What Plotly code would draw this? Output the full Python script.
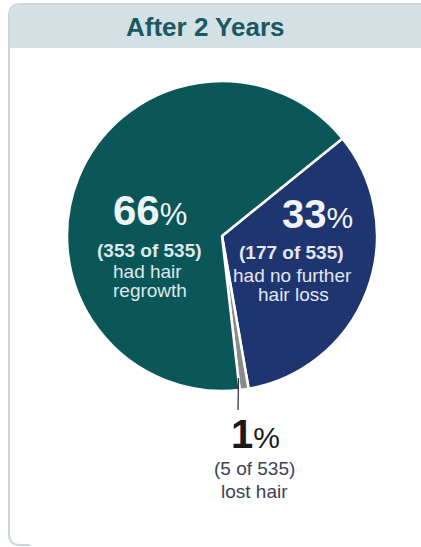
import plotly.graph_objects as go

title = "After 2 Years"
categories = ["had no further hair loss", "lost hair", "had hair regrowth"]
counts = [177, 5, 353]
total = 535
percents = [33, 1, 66]
desc_lines = [["had no further", "hair loss"], ["lost hair"], ["had hair", "regrowth"]]
colors = ["#1e3570", "#8a8a8a", "#0b5659"]

W, H = 421, 547
fig = go.Figure()

cx, cy, r = 222, 236, 155
fig.add_trace(go.Pie(
    labels=categories, values=counts, sort=False, direction="clockwise",
    rotation=51, textinfo="none", hoverinfo="label+value",
    marker=dict(colors=colors, line=dict(color="white", width=2.5)),
    domain=dict(x=[(cx - r) / W, (cx + r) / W], y=[(H - cy - r) / H, (H - cy + r) / H]),
    showlegend=False,
))


def px(x):
    return x / W


def py(y):
    return 1 - y / H


shapes = []
# panel outline (left side + rounded corners)
shapes.append(dict(type="path", xref="paper", yref="paper",
                   path=f"M {px(30)},{py(545)} L {px(20)},{py(545)} Q {px(9)},{py(545)} {px(9)},{py(534)} "
                        f"L {px(9)},{py(16)} Q {px(9)},{py(4)} {px(21)},{py(4)} L {px(440)},{py(4)}",
                   line=dict(color="#c9d7dc", width=2), fillcolor="rgba(0,0,0,0)", layer="below"))
# header band
shapes.append(dict(type="path", xref="paper", yref="paper",
                   path=f"M {px(10)},{py(48)} L {px(10)},{py(16)} Q {px(10)},{py(5)} {px(21)},{py(5)} "
                        f"L {px(421)},{py(5)} L {px(421)},{py(48)} Z",
                   line=dict(width=0), fillcolor="#d3e1e5", layer="below"))
# leader line for the small slice
shapes.append(dict(type="line", xref="paper", yref="paper",
                   x0=px(238.5), y0=py(378), x1=px(238), y1=py(410),
                   line=dict(color="#2a2a3a", width=1.2)))

F = "Liberation Sans, Arial, sans-serif"
ann = []


def add(x, y, text, size, color):
    ann.append(dict(x=px(x), y=py(y), text=text, showarrow=False, xanchor="center", yanchor="middle",
                    font=dict(family=F, size=size, color=color)))


add(205, 27, f"<b>{title}</b>", 26, "#1a5961")

# big percentage labels: (x, y) centres
pct_pos = [(317, 214), (255, 434), (150, 211)]
pct_col = ["#f2f4f8", "#1a1a1a", "#eef3f3"]
pct_size = [40, 40, 42]
for i in range(3):
    x, y = pct_pos[i]
    add(x, y, f"<b>{percents[i]}</b><span style='font-size:{int(pct_size[i]*0.75)}px'>%</span>",
        pct_size[i], pct_col[i])

# sub-labels, one line per annotation
sub_pos = [[(291, 252), (292, 275), (293, 294)],
           [(254, 468), (254, 492)],
           [(149, 250), (147, 271), (150, 290)]]
sub_col = ["#e3e7f0", "#3b4252", "#dde8e8"]
for i in range(3):
    lines = [f"<b>({counts[i]} of {total})</b>" if i != 1 else f"({counts[i]} of {total})"] + desc_lines[i]
    for (x, y), t in zip(sub_pos[i], lines):
        add(x, y, t, 19, sub_col[i])

fig.update_layout(width=W, height=H, margin=dict(l=0, r=0, t=0, b=0),
                  paper_bgcolor="white", plot_bgcolor="white",
                  shapes=shapes, annotations=ann)
fig.write_html("out.html", config={"displayModeBar": False},
               post_script="document.body.style.margin='0';")
